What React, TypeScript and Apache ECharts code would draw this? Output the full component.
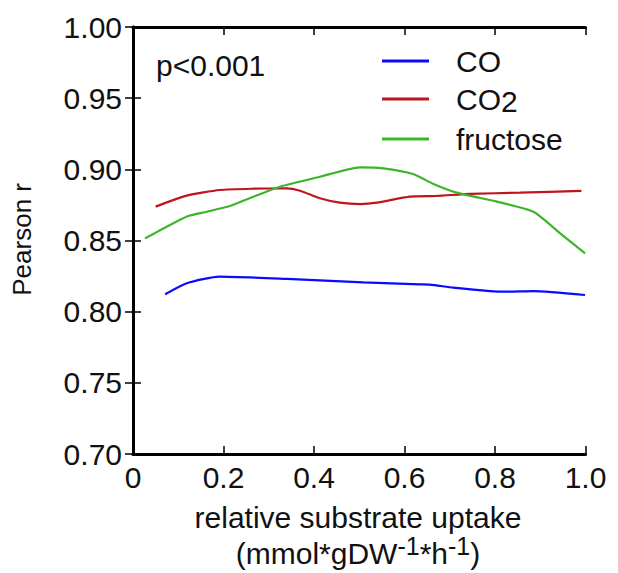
import React, { useEffect, useRef } from "react";
import * as echarts from "echarts";

const coX = [0.071, 0.119, 0.191, 0.34, 0.509, 0.634, 0.656, 0.708, 0.789, 0.826, 0.885, 0.999];
const coY = [0.8122, 0.82, 0.8246, 0.823, 0.8206, 0.8192, 0.819, 0.8169, 0.8145, 0.8141, 0.8145, 0.8117];

const co2X = [0.05, 0.119, 0.192, 0.266, 0.339, 0.369, 0.413, 0.457, 0.502, 0.539, 0.612, 0.671, 0.745, 0.855, 0.991];
const co2Y = [0.8738, 0.8815, 0.8855, 0.8864, 0.8866, 0.885, 0.8797, 0.8766, 0.8756, 0.8766, 0.8808, 0.8813, 0.8827, 0.8836, 0.8848];

const fruX = [0.0265, 0.0744, 0.122, 0.163, 0.214, 0.266, 0.325, 0.413, 0.502, 0.553, 0.619, 0.664, 0.715, 0.804, 0.885, 0.944, 0.999];
const fruY = [0.8515, 0.8597, 0.8672, 0.8702, 0.8742, 0.8808, 0.8878, 0.8948, 0.9014, 0.9007, 0.8967, 0.8897, 0.8836, 0.8773, 0.8702, 0.855, 0.841];

const seriesNames = ["CO", "CO2", "fructose"];
const seriesColors = ["#0a0aff", "#c0141e", "#3cb52a"];
const annotation = "p<0.001";
const yAxisName = "Pearson r";
const xAxisName1 = "relative substrate uptake";
const xAxisName2 = "{b|(mmol*gDW}{s|-1}{b|*h}{s|-1}{b|)}";

const FONT = "'Liberation Sans', Arial, Helvetica, sans-serif";

const zip = (xs: number[], ys: number[]) => xs.map((x, i) => [x, ys[i]]);

export default function App() {
  const ref = useRef<HTMLDivElement>(null);
  useEffect(() => {
    document.body.style.margin = "0";
    if (!ref.current) return;
    const chart = echarts.init(ref.current, null, { renderer: "svg" });
    const axisLine = { show: true, lineStyle: { color: "#000", width: 3 } };
    const axisTick = { show: true, inside: true, length: 8, lineStyle: { color: "#000", width: 1.5 } };
    const datasets = [zip(coX, coY), zip(co2X, co2Y), zip(fruX, fruY)];
    chart.setOption({
      animation: false,
      backgroundColor: "#fff",
      textStyle: { fontFamily: FONT },
      grid: { left: 133, top: 27, right: 32.5, bottom: 119, containLabel: false },
      xAxis: [
        {
          type: "value", min: 0, max: 1, interval: 0.2, position: "bottom",
          axisLine, axisTick, splitLine: { show: false },
          axisLabel: {
            fontSize: 30, color: "#111", fontFamily: FONT, margin: 8,
            formatter: (v: number) => (v === 0 ? "0" : v.toFixed(1)),
          },
        },
        {
          type: "value", min: 0, max: 1, interval: 0.2, position: "top",
          axisLine, axisTick, splitLine: { show: false }, axisLabel: { show: false },
        },
      ],
      yAxis: [
        {
          type: "value", min: 0.7, max: 1.0, interval: 0.05, position: "left",
          axisLine, axisTick, splitLine: { show: false },
          axisLabel: {
            fontSize: 30, color: "#111", fontFamily: FONT, margin: 11,
            formatter: (v: number) => v.toFixed(2),
          },
        },
        {
          type: "value", min: 0.7, max: 1.0, interval: 0.05, position: "right",
          axisLine, axisTick, splitLine: { show: false }, axisLabel: { show: false },
        },
      ],
      legend: {
        orient: "vertical", left: 382, top: 46, padding: 0, itemGap: 8,
        itemWidth: 47, itemHeight: 3, icon: "rect",
        data: seriesNames,
        formatter: (name: string) =>
          name === "CO2" ? "{g| }{b|CO}{s|2}" : "{g| }{b|" + name + "}",
        textStyle: {
          fontFamily: FONT, color: "#111",
          rich: {
            g: { width: 22, fontSize: 30, lineHeight: 34 },
            b: { fontSize: 30, lineHeight: 34, fontFamily: FONT, color: "#111" },
            s: { fontSize: 30, lineHeight: 20, verticalAlign: "bottom", fontFamily: FONT, color: "#111" },
          },
        },
      },
      series: seriesNames.map((name, i) => ({
        name, type: "line", data: datasets[i], showSymbol: false, symbol: "none",
        smooth: 0.2, clip: true,
        lineStyle: { color: seriesColors[i], width: 2.2 },
        itemStyle: { color: seriesColors[i] },
      })),
      graphic: [
        {
          type: "text", left: 156, top: 50,
          style: { text: annotation, fontSize: 30, fontFamily: FONT, fill: "#111" },
        },
        {
          type: "group", left: 9, top: 183,
          children: [
            {
              type: "text", x: 0, y: 0, rotation: Math.PI / 2,
              style: {
                text: yAxisName, fontSize: 26, fontFamily: FONT, fill: "#111",
                align: "right", verticalAlign: "top",
              },
            },
          ],
        },
        {
          type: "text", x: 358, y: 517,
          style: { text: xAxisName1, fontSize: 30, fontFamily: FONT, fill: "#111", align: "center", verticalAlign: "middle" },
        },
        {
          type: "text", x: 358, y: 553,
          style: {
            text: xAxisName2, fontFamily: FONT, fill: "#111", align: "center", verticalAlign: "middle",
            rich: {
              b: { fontSize: 30, lineHeight: 40, fontFamily: FONT, fill: "#111" },
              s: { fontSize: 25, lineHeight: 24, verticalAlign: "top", fontFamily: FONT, fill: "#111" },
            },
          },
        },
      ],
    });
    return () => chart.dispose();
  }, []);
  return <div ref={ref} style={{ width: 618, height: 573 }} />;
}
